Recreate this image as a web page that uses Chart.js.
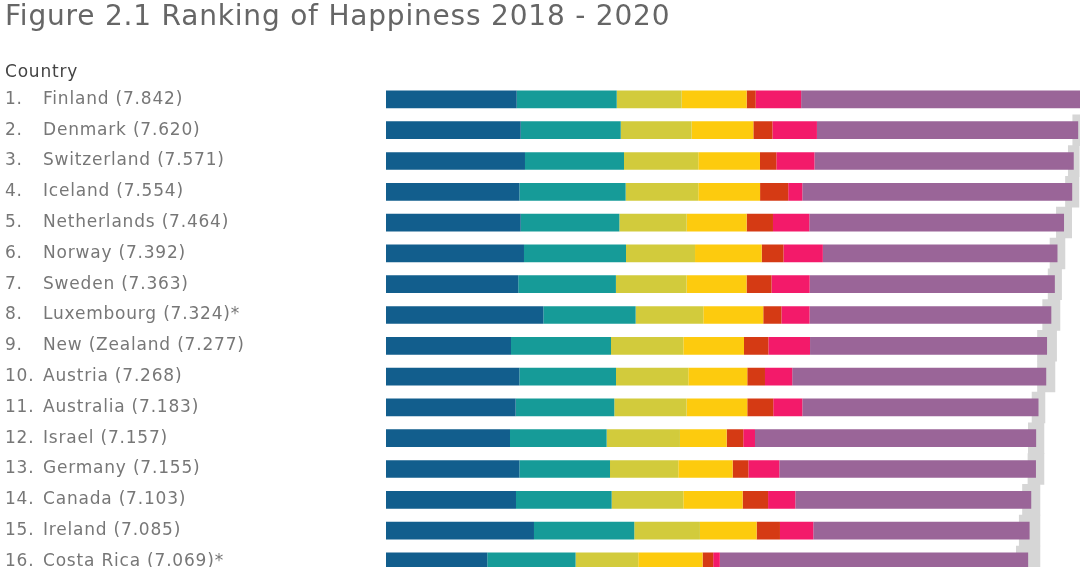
<!DOCTYPE html>
<html>
<head>
<meta charset="utf-8">
<script src="https://cdn.jsdelivr.net/npm/chart.js@4.4.1/dist/chart.umd.min.js"></script>
<style>
    html, body { margin: 0; padding: 0; background: #fff; overflow: hidden; }
    #wrap { width: 1100px; height: 590px; }
</style>
</head>
<body>
<div id="wrap"><canvas id="happyChart" width="1100" height="590"></canvas></div>
<script>
// =====================
// Данные
// =====================
const ranks = ["1.", "2.", "3.", "4.", "5.", "6.", "7.", "8.", "9.", "10.", "11.", "12.", "13.", "14.", "15.", "16."];
const countries = [
    "Finland (7.842)", "Denmark (7.620)", "Switzerland (7.571)", "Iceland (7.554)",
    "Netherlands (7.464)", "Norway (7.392)", "Sweden (7.363)", "Luxembourg (7.324)*",
    "New (Zealand (7.277)", "Austria (7.268)", "Australia (7.183)", "Israel (7.157)",
    "Germany (7.155)", "Canada (7.103)", "Ireland (7.085)", "Costa Rica (7.069)*"
];
const gdp        = [1.439, 1.483, 1.530, 1.468, 1.483, 1.519, 1.456, 1.732, 1.376, 1.468, 1.427, 1.365, 1.468, 1.431, 1.629, 1.115];
const social     = [1.101, 1.101, 1.090, 1.170, 1.086, 1.123, 1.075, 1.016, 1.101, 1.064, 1.086, 1.064, 0.998, 1.053, 1.104, 0.972];
const health     = [0.715, 0.780, 0.818, 0.800, 0.741, 0.760, 0.778, 0.745, 0.796, 0.796, 0.796, 0.807, 0.752, 0.789, 0.723, 0.690];
const freedom    = [0.715, 0.680, 0.679, 0.680, 0.660, 0.734, 0.660, 0.660, 0.668, 0.649, 0.668, 0.514, 0.598, 0.653, 0.624, 0.708];
const generosity = [0.100, 0.210, 0.180, 0.310, 0.290, 0.240, 0.275, 0.200, 0.268, 0.195, 0.286, 0.183, 0.173, 0.280, 0.257, 0.117];
const corruption = [0.500, 0.490, 0.420, 0.155, 0.400, 0.433, 0.420, 0.310, 0.459, 0.300, 0.320, 0.129, 0.341, 0.300, 0.367, 0.073];
const dystopia   = [3.272, 2.876, 2.854, 2.971, 2.804, 2.583, 2.699, 2.661, 2.609, 2.796, 2.600, 3.095, 2.825, 2.597, 2.381, 3.394];
const ciLow      = [7.780, 7.560, 7.511, 7.480, 7.380, 7.310, 7.289, 7.229, 7.172, 7.172, 7.112, 7.071, 7.067, 7.007, 6.971, 6.939];
const ciHigh     = [7.904, 7.680, 7.631, 7.628, 7.548, 7.474, 7.437, 7.419, 7.382, 7.364, 7.254, 7.243, 7.243, 7.199, 7.199, 7.199];

const parts = [
    { data: gdp,        color: "#125e8d" },
    { data: social,     color: "#169b98" },
    { data: health,     color: "#d2cb3c" },
    { data: freedom,    color: "#fdcb0e" },
    { data: generosity, color: "#d53a14" },
    { data: corruption, color: "#f31a6a" },
    { data: dystopia,   color: "#9a6598" }
];

const labelFont = { family: "DejaVu Sans", size: 17 };

const datasets = parts.map(p => ({
    data: p.data,
    backgroundColor: p.color,
    stack: "main",
    categoryPercentage: 1,
    barPercentage: 0.575,
    order: 0
}));

// серая полоса доверительного интервала позади столбцов
datasets.push({
    data: ciLow.map((lo, i) => [lo, ciHigh[i]]),
    backgroundColor: "#d6d6d6",
    stack: "ci",
    grouped: false,
    categoryPercentage: 1,
    barPercentage: 1,
    order: 1
});

// шрифт в оригинале шире — немного разрядки букв
const spacing = {
    id: "spacing",
    beforeDraw: chart => { chart.ctx.letterSpacing = "0.8px"; }
};

new Chart(document.getElementById("happyChart"), {
    type: "bar",
    data: { labels: countries, datasets: datasets },
    plugins: [spacing],
    options: {
        indexAxis: "y",
        responsive: false,
        animation: false,
        layout: { padding: { left: 5, right: 0, top: 0, bottom: 0 } },
        plugins: {
            legend: { display: false },
            tooltip: { enabled: false },
            title: {
                display: true,
                text: "Figure 2.1 Ranking of Happiness 2018 - 2020",
                align: "start",
                color: "#666",
                font: { family: "DejaVu Sans", size: 28, weight: "normal" },
                padding: { top: 1, bottom: 28 }
            },
            subtitle: {
                display: true,
                text: "Country",
                align: "start",
                color: "#444",
                font: { family: "DejaVu Sans", size: 17 },
                padding: { top: 0, bottom: 1 }
            }
        },
        scales: {
            x: {
                stacked: true,
                min: 0,
                max: 7.86,
                display: false
            },
            y: {
                position: "left",
                weight: 0,
                offset: true,
                grid: { display: false },
                border: { display: false },
                ticks: { autoSkip: false, crossAlign: "far", color: "#777", font: labelFont },
                afterFit: axis => { axis.width = 343; }
            },
            rank: {
                type: "category",
                axis: "y",
                position: "left",
                weight: 1,
                labels: ranks,
                offset: true,
                grid: { display: false },
                border: { display: false },
                ticks: { autoSkip: false, crossAlign: "far", color: "#777", font: labelFont },
                afterFit: axis => { axis.width = 38; }
            }
        }
    }
});
</script>
</body>
</html>
